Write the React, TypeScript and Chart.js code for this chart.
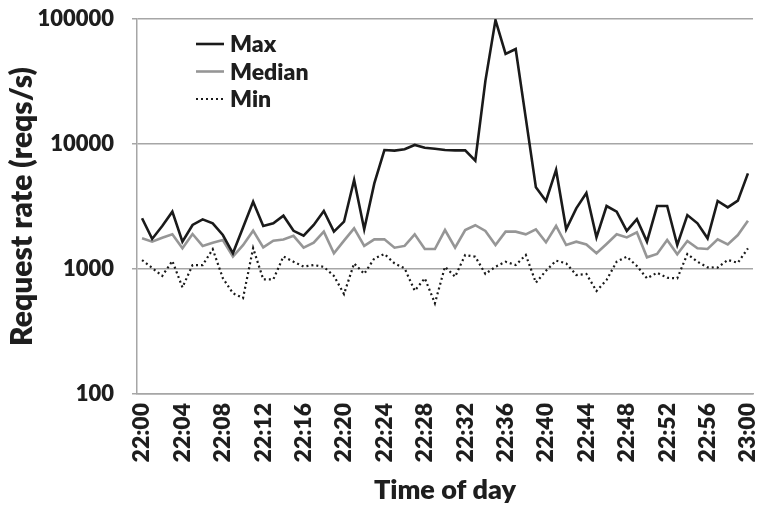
import React, { useEffect, useRef } from 'react';
import { Chart, registerables } from 'chart.js';

Chart.register(...registerables);

const timeLabels = [
  '22:00', '22:01', '22:02', '22:03', '22:04', '22:05', '22:06', '22:07', '22:08', '22:09',
  '22:10', '22:11', '22:12', '22:13', '22:14', '22:15', '22:16', '22:17', '22:18', '22:19',
  '22:20', '22:21', '22:22', '22:23', '22:24', '22:25', '22:26', '22:27', '22:28', '22:29',
  '22:30', '22:31', '22:32', '22:33', '22:34', '22:35', '22:36', '22:37', '22:38', '22:39',
  '22:40', '22:41', '22:42', '22:43', '22:44', '22:45', '22:46', '22:47', '22:48', '22:49',
  '22:50', '22:51', '22:52', '22:53', '22:54', '22:55', '22:56', '22:57', '22:58', '22:59',
  '23:00',
];

const maxValues = [
  2545, 1740, 2210, 2875, 1655, 2250, 2495, 2320, 1870, 1335,
  2150, 3450, 2210, 2320, 2670, 2020, 1845, 2250, 2910, 1990,
  2390, 5150, 2080, 4840, 8950, 8850, 9080, 9820, 9330, 9150,
  8950, 8900, 8900, 7360, 32000, 98000, 52500, 57500, 16100, 4500,
  3500, 6200, 2080, 3055, 4050, 1790, 3190, 2875, 2015, 2500,
  1655, 3190, 3190, 1555, 2700, 2320, 1760, 3500, 3110, 3520,
  5825,
];

const medianValues = [
  1760, 1655, 1780, 1895, 1465, 1905, 1530, 1625, 1705, 1255,
  1550, 2025, 1490, 1685, 1720, 1840, 1480, 1625, 1990, 1335,
  1685, 2115, 1530, 1727, 1727, 1480, 1530, 1895, 1445, 1445,
  2050, 1480, 2050, 2240, 2015, 1555, 1990, 1990, 1895, 2075,
  1635, 2210, 1555, 1655, 1570, 1335, 1585, 1895, 1790, 1965,
  1240, 1320, 1705, 1310, 1675, 1465, 1445, 1725, 1575, 1870,
  2430,
];

const minValues = [
  1180, 1020, 880, 1160, 713, 1075, 1075, 1440, 845, 640,
  585, 1470, 826, 826, 1260, 1143, 1045, 1076, 1040, 880,
  631, 1109, 915, 1215, 1318, 1109, 1012, 670, 843, 532,
  1043, 868, 1294, 1254, 913, 1043, 1143, 1076, 1294, 778,
  968, 1166, 1109, 895, 913, 667, 817, 1145, 1254, 1057,
  842, 933, 851, 842, 1318, 1143, 1031, 1026, 1180, 1122,
  1463,
];

const yTickValues = [100, 1000, 10000, 100000];

const seriesNames = ['Max', 'Median', 'Min'];

const FONT = 'Lato';
const WEIGHT = 800;
const TEXT_COLOR = '#1e1e1e';
const GRID_COLOR = '#a6a6a6';

const inlineLegend = {
  id: 'inlineLegend',
  afterDatasetsDraw(chart: any) {
    const { ctx, chartArea } = chart;
    const x0 = chartArea.left + 59;
    const x1 = chartArea.left + 87;
    const tx = chartArea.left + 93;
    const ys = [chartArea.top + 25, chartArea.top + 52.5, chartArea.top + 80];
    ctx.save();
    chart.data.datasets.forEach((ds: any, i: number) => {
      const y = ys[i];
      ctx.beginPath();
      ctx.strokeStyle = ds.borderColor;
      ctx.lineWidth = ds.borderWidth;
      ctx.setLineDash(ds.borderDash || []);
      ctx.moveTo(x0, y);
      ctx.lineTo(x1, y);
      ctx.stroke();
      ctx.setLineDash([]);
      ctx.fillStyle = TEXT_COLOR;
      ctx.font = `${WEIGHT} 23px ${FONT}`;
      ctx.textAlign = 'left';
      ctx.textBaseline = 'middle';
      ctx.fillText(ds.label, tx, y + 1);
    });
    ctx.restore();
  },
};

export default function App() {
  const canvasRef = useRef<HTMLCanvasElement | null>(null);

  useEffect(() => {
    document.body.style.margin = '0';
    const canvas = canvasRef.current;
    if (!canvas) return;
    const chart = new Chart(canvas, {
      type: 'line',
      data: {
        labels: timeLabels,
        datasets: [
          {
            label: seriesNames[0],
            data: maxValues,
            borderColor: '#1a1a1a',
            borderWidth: 2.6,
            pointRadius: 0,
            tension: 0,
          },
          {
            label: seriesNames[1],
            data: medianValues,
            borderColor: '#969696',
            borderWidth: 2.6,
            pointRadius: 0,
            tension: 0,
          },
          {
            label: seriesNames[2],
            data: minValues,
            borderColor: '#1a1a1a',
            borderWidth: 2.2,
            borderDash: [2, 3],
            pointRadius: 0,
            tension: 0,
          },
        ],
      },
      options: {
        animation: false,
        responsive: false,
        maintainAspectRatio: false,
        layout: { padding: { top: 19, right: 5, left: 0, bottom: 0 } },
        plugins: {
          legend: { display: false },
          tooltip: { enabled: false },
        },
        scales: {
          x: {
            type: 'category',
            offset: true,
            grid: { color: 'transparent', drawTicks: false },
            border: { display: true, color: GRID_COLOR, width: 1.5 },
            ticks: {
              autoSkip: false,
              minRotation: 90,
              maxRotation: 90,
              padding: 9,
              color: TEXT_COLOR,
              font: { family: FONT, size: 23, weight: WEIGHT },
              callback: (_v: any, i: number) => (i % 4 === 0 ? timeLabels[i] : ''),
            },
            title: {
              display: true,
              text: 'Time of day',
              color: TEXT_COLOR,
              font: { family: FONT, size: 27, weight: WEIGHT },
              padding: { top: 0, bottom: 0 },
            },
            afterFit: (s: any) => {
              s.height = 112;
              s.paddingLeft = 0;
              s.paddingRight = 0;
            },
          },
          y: {
            type: 'logarithmic',
            min: 100,
            max: 100000,
            afterBuildTicks: (s: any) => {
              s.ticks = yTickValues.map((v) => ({ value: v }));
            },
            grid: { color: GRID_COLOR, lineWidth: 1.5, drawTicks: true, tickLength: 5 },
            border: { display: true, color: GRID_COLOR, width: 1.5 },
            ticks: {
              padding: 18,
              color: TEXT_COLOR,
              font: { family: FONT, size: 22, weight: WEIGHT },
              callback: (v: any) => String(v),
            },
            title: {
              display: true,
              text: 'Request rate (reqs/s)',
              color: TEXT_COLOR,
              font: { family: FONT, size: 30, weight: WEIGHT },
              padding: { top: 4, bottom: 0 },
            },
            afterFit: (s: any) => {
              s.width = 137;
              s.paddingTop = 0;
              s.paddingBottom = 0;
            },
          },
        },
      } as any,
      plugins: [inlineLegend],
    });
    return () => chart.destroy();
  }, []);

  return (
    <div style={{ position: 'fixed', left: 0, top: 0, width: 758, height: 506 }}>
      <canvas ref={canvasRef} width={758} height={506} style={{ width: 758, height: 506 }} />
    </div>
  );
}
